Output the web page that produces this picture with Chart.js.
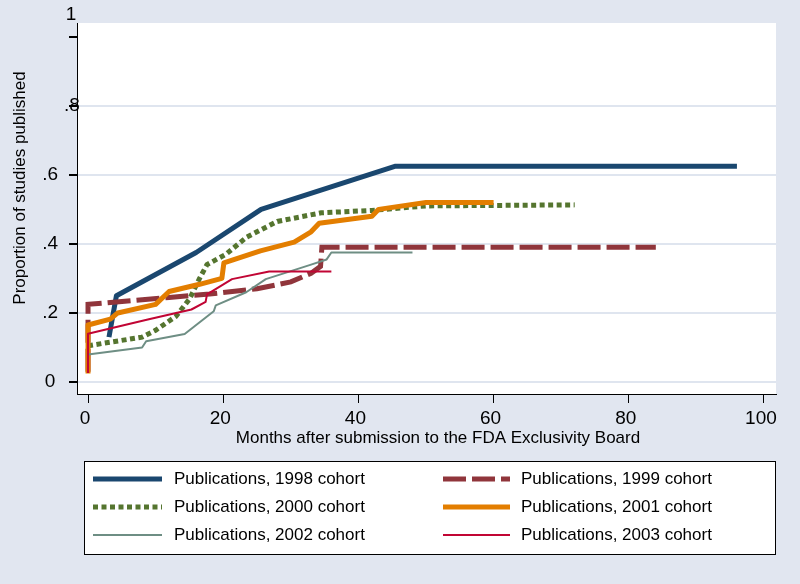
<!DOCTYPE html>
<html>
<head>
<meta charset="utf-8">
<script src="https://cdn.jsdelivr.net/npm/chart.js@4.4.1/dist/chart.umd.min.js"></script>
<style>
  html, body { margin: 0; padding: 0; background: #e1e6f0; }
  canvas { display: block; }
</style>
</head>
<body>
<canvas id="km_chart" width="800" height="584"></canvas>
<script>
// cohort labels
const cohorts = [
    'Publications, 1998 cohort',
    'Publications, 1999 cohort',
    'Publications, 2000 cohort',
    'Publications, 2001 cohort',
    'Publications, 2002 cohort',
    'Publications, 2003 cohort'
];

// months after submission / proportion published
const months_1998 = [3.1, 4.2, 16, 25.6, 45.5, 96];
const prop_1998   = [0.13, 0.25, 0.375, 0.5, 0.625, 0.625];

const months_1999 = [0, 0, 12, 18, 25, 30, 33, 34.4, 34.6, 84];
const prop_1999   = [0.03, 0.225, 0.245, 0.255, 0.27, 0.29, 0.315, 0.335, 0.39, 0.39];

const months_2000 = [0, 8, 10, 13, 15, 16.5, 17.6, 20.4, 23.5, 28, 34.5, 42, 50, 72];
const prop_2000   = [0.105, 0.13, 0.15, 0.19, 0.24, 0.3, 0.34, 0.37, 0.42, 0.465, 0.49, 0.497, 0.51, 0.513];

const months_2001 = [0, 0, 3.3, 4.4, 10, 12, 16.5, 19.8, 20.1, 25.5, 30.5, 33, 34.2, 42, 43, 50, 60];
const prop_2001   = [0.025, 0.165, 0.182, 0.2, 0.225, 0.262, 0.283, 0.3, 0.345, 0.38, 0.405, 0.435, 0.46, 0.48, 0.5, 0.52, 0.52];

const months_2002 = [0, 8, 8.6, 14.3, 18.6, 18.9, 23.4, 26.3, 33, 35.3, 36, 48];
const prop_2002   = [0.08, 0.1, 0.118, 0.139, 0.205, 0.222, 0.26, 0.298, 0.34, 0.355, 0.375, 0.375];

const months_2003 = [0, 0, 9, 15.3, 17.4, 17.6, 21.3, 26.8, 36];
const prop_2003   = [0.026, 0.14, 0.182, 0.21, 0.232, 0.254, 0.298, 0.32, 0.32];

const x_ticks = [0, 20, 40, 60, 80, 100];
const y_ticks = [0, 0.2, 0.4, 0.6, 0.8, 1];
const y_tick_labels = ['0', '.2', '.4', '.6', '.8', '1'];
const x_title = 'Months after submission to the FDA Exclusivity Board';
const y_title = 'Proportion of studies published';

// styles (stata s2color look)
const line_colours = ['#1a476f', '#90353b', '#55752f', '#e37e00', '#6e8e84', '#c10534'];
const line_widths = [5, 5, 5, 5, 2, 2];
const line_dashes = [[], [23, 6], [5, 3.5], [], [], []];
const bg_colour = '#e1e6f0';
const grid_colour = '#dfe5ef';
const fam = '"Liberation Sans", Arial, Helvetica, sans-serif';
const tick_size = 19;
const title_size = 17;
const legend_size = 17;

const all_months = [months_1998, months_1999, months_2000, months_2001, months_2002, months_2003];
const all_props = [prop_1998, prop_1999, prop_2000, prop_2001, prop_2002, prop_2003];

const datasets = [];
for (var i = 0; i < cohorts.length; i++) {
    const pts = [];
    for (var j = 0; j < all_months[i].length; j++) {
        pts.push({ x: all_months[i][j], y: all_props[i][j] });
    }
    datasets.push({
        label: cohorts[i],
        data: pts,
        borderColor: line_colours[i],
        backgroundColor: line_colours[i],
        borderWidth: line_widths[i],
        borderDash: line_dashes[i],
        borderCapStyle: 'butt',
        borderJoinStyle: line_dashes[i].length ? 'miter' : 'round',
        pointRadius: 0,
        tension: 0,
        fill: false,
        order: cohorts.length - i   // later cohorts drawn on top
    });
}

const stataFrame = {
    id: 'stataFrame',
    beforeDraw(chart) {
        const ctx = chart.ctx;
        const a = chart.chartArea;
        ctx.save();
        ctx.fillStyle = bg_colour;
        ctx.fillRect(0, 0, chart.width, chart.height);
        ctx.fillStyle = '#ffffff';
        ctx.fillRect(a.left, a.top, a.right - a.left, a.bottom - a.top);
        ctx.restore();
    },
    afterDraw(chart) {
        const ctx = chart.ctx;
        const ys = chart.scales.y;
        ctx.save();
        ctx.fillStyle = '#000';
        ctx.textBaseline = 'middle';

        // the two odd-placed y labels
        ctx.font = tick_size + 'px ' + fam;
        ctx.textAlign = 'center';
        ctx.fillText(y_tick_labels[4], 72, ys.getPixelForValue(y_ticks[4]));
        ctx.fillText(y_tick_labels[5], 71, 15);

        // axis titles
        ctx.font = title_size + 'px ' + fam;
        ctx.fillText(x_title, 438, 438);
        ctx.translate(20, 188);
        ctx.rotate(-Math.PI / 2);
        ctx.fillText(y_title, 0, 0);
        ctx.setTransform(1, 0, 0, 1, 0, 0);

        // legend box, 2 columns x 3 rows
        ctx.fillStyle = '#fff';
        ctx.fillRect(84, 461, 691, 93);
        ctx.strokeStyle = '#000';
        ctx.lineWidth = 1;
        ctx.strokeRect(84.5, 461.5, 691, 93);
        const colX = [[93, 162, 174], [443, 510, 521]];
        const rowY = [479, 507, 535];
        ctx.font = legend_size + 'px ' + fam;
        ctx.textAlign = 'left';
        for (var i = 0; i < cohorts.length; i++) {
            const c = colX[i % 2];
            const y = rowY[Math.floor(i / 2)];
            ctx.beginPath();
            ctx.strokeStyle = line_colours[i];
            ctx.lineWidth = line_widths[i];
            ctx.setLineDash(line_dashes[i]);
            ctx.lineCap = 'butt';
            ctx.moveTo(c[0], y);
            ctx.lineTo(c[1], y);
            ctx.stroke();
            ctx.setLineDash([]);
            ctx.fillStyle = '#000';
            ctx.fillText(cohorts[i], c[2], y);
        }
        ctx.restore();
    }
};

const canvas = document.getElementById('km_chart');
new Chart(canvas, {
    type: 'line',
    data: { datasets: datasets },
    options: {
        responsive: false,
        animation: false,
        layout: { padding: { top: 23, right: 24, left: 0, bottom: 0 } },
        plugins: {
            legend: { display: false },
            tooltip: { enabled: false },
            title: { display: false }
        },
        scales: {
            x: {
                type: 'linear',
                min: -1.63,
                max: 101.78,
                afterFit: function (s) { s.height = 584 - 394; },
                afterBuildTicks: function (s) { s.ticks = x_ticks.map(v => ({ value: v })); },
                border: { display: true, color: '#000', width: 1 },
                grid: { display: true, drawOnChartArea: false, drawTicks: true, tickLength: 9, tickColor: '#000', color: '#000' },
                ticks: { color: '#000', padding: 4, labelOffset: -3, maxRotation: 0, font: { size: tick_size, family: fam } }
            },
            y: {
                type: 'linear',
                min: -0.0347,
                max: 1.0397,
                afterFit: function (s) { s.width = 77; },
                afterBuildTicks: function (s) { s.ticks = y_ticks.map(v => ({ value: v })); },
                border: { display: true, color: '#000', width: 1 },
                grid: {
                    display: true,
                    drawOnChartArea: true,
                    drawTicks: true,
                    tickLength: 8,
                    lineWidth: 2,
                    color: function (c) { return (c.tick && c.tick.value === 1) ? 'rgba(0,0,0,0)' : grid_colour; },
                    tickColor: '#000'
                },
                ticks: {
                    color: '#000',
                    padding: 11,
                    crossAlign: 'center',
                    font: { size: tick_size, family: fam },
                    callback: function (v) {
                        const idx = y_ticks.indexOf(v);
                        if (idx >= 4) return '';   // .8 and 1 are drawn by stataFrame
                        return idx >= 0 ? y_tick_labels[idx] : '';
                    }
                }
            }
        }
    },
    plugins: [stataFrame]
});
</script>
</body>
</html>
